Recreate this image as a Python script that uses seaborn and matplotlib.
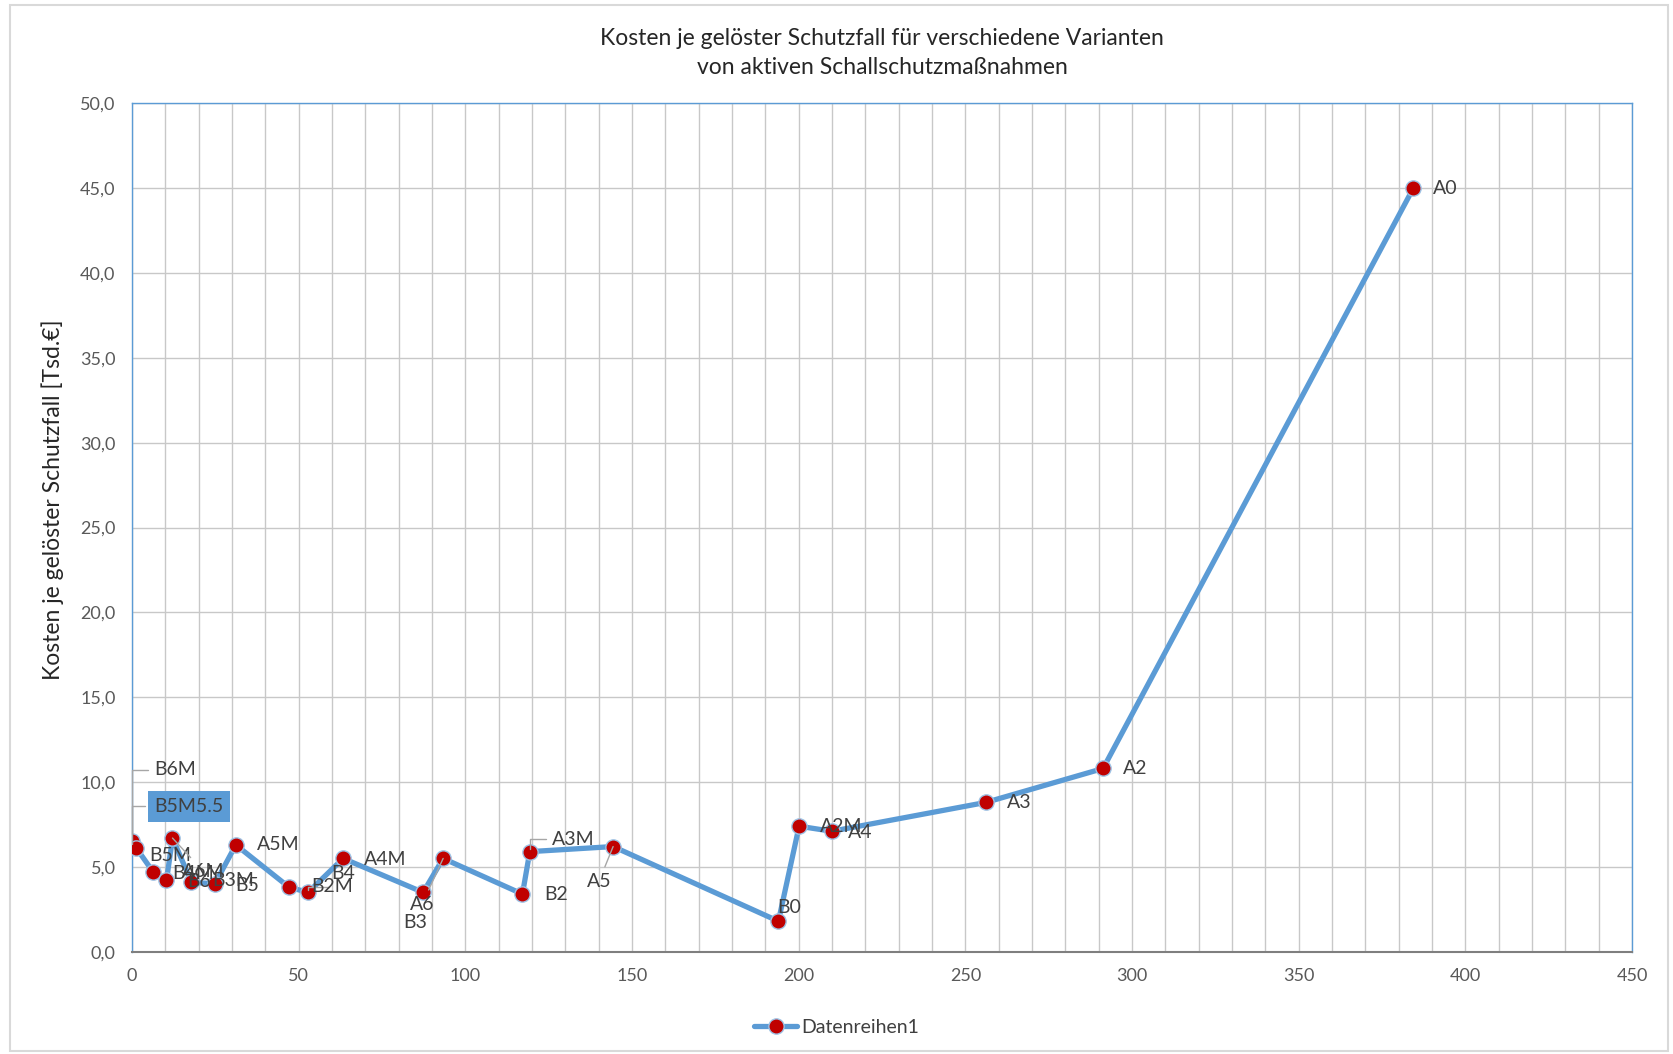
import matplotlib
matplotlib.use("Agg")
import matplotlib.pyplot as plt
from matplotlib.patches import Rectangle
from matplotlib.ticker import FuncFormatter, MultipleLocator
import seaborn as sns
import pandas as pd

# Variants in the order the line connects them
variants = ["B6M", "B5M5.5", "B5M", "B4M", "B6", "A6M", "B3M", "B5", "A5M", "B4",
            "B2M", "A4M", "B3", "A6", "B2", "A3M", "A5", "B0", "A2M", "A4",
            "A3", "A2", "A0"]
# resolved protection cases (x) and cost per resolved case in Tsd. EUR (y)
schutzfaelle = [0.0, 0.0, 1.3, 6.3, 10.3, 12.1, 17.8, 24.8, 31.1, 47.1,
                52.8, 63.3, 87.3, 93.3, 117.1, 119.3, 144.3, 193.9, 200.1, 209.9,
                256.1, 291.3, 384.4]
kosten = [6.8, 6.2, 6.1, 4.7, 4.2, 6.7, 4.1, 4.0, 6.3, 3.8,
          3.5, 5.5, 3.5, 5.5, 3.4, 5.9, 6.2, 1.8, 7.4, 7.1,
          8.8, 10.8, 45.0]

# label offsets in points (dx, dy) and leader line kind (None, "angle", "straight")
label_style = {
    "B6M": ((16, 48), "angle"), "B5M5.5": ((16, 29), "angle"), "B5M": ((9, -5), None),
    "B4M": ((14, -1), None), "B6": ((15, -1), None), "A6M": ((7, -24), "straight"),
    "B3M": ((15, 1), None), "B5": ((15, -1), None), "A5M": ((15, 0), None),
    "B4": ((30, 10), None), "B2M": ((2, 4), "angle"), "A4M": ((15, -1), None),
    "B3": ((-14, -22), None), "A6": ((-24, -33), "straight"), "B2": ((16, 0), None),
    "A3M": ((16, 9), "angle"), "A5": ((-19, -25), "straight"), "B0": ((-1, 10), None),
    "A2M": ((15, 0), None), "A4": ((12, -1), None), "A3": ((15, 0), None),
    "A2": ((14, 0), None), "A0": ((14, 0), None),
}

df = pd.DataFrame({"x": schutzfaelle, "y": kosten, "label": variants})

sns.set_theme(style="white")
plt.rcParams["font.family"] = ["Lato", "DejaVu Sans"]

fig = plt.figure(figsize=(16.73, 10.54), dpi=100)
ax = fig.add_axes([0.079, 0.097, 0.8965, 0.805])

line_blue = "#5B9BD5"
sns.lineplot(data=df, x="x", y="y", sort=False, ax=ax, color=line_blue,
             linewidth=3.8, marker="o", markersize=11,
             markerfacecolor="#C00000", markeredgecolor="#9DC3E6",
             markeredgewidth=1.0, label="Datenreihen1", zorder=3)

ax.set_xlim(0, 450)
ax.set_ylim(0, 50)
ax.xaxis.set_major_locator(MultipleLocator(50))
ax.xaxis.set_minor_locator(MultipleLocator(10))
ax.yaxis.set_major_locator(MultipleLocator(5))
ax.grid(which="both", axis="x", color="#C8C8C8", linewidth=1.0)
ax.grid(which="major", axis="y", color="#C8C8C8", linewidth=1.0)
ax.set_axisbelow(True)
ax.tick_params(which="both", length=0, labelsize=13, labelcolor="#595959")
ax.tick_params(axis="y", pad=12)
ax.tick_params(axis="x", pad=12)
ax.yaxis.set_major_formatter(FuncFormatter(lambda v, p: f"{v:.1f}".replace(".", ",")))

for side in ("left", "top", "right"):
    ax.spines[side].set_color(line_blue)
    ax.spines[side].set_linewidth(1.0)
ax.spines["bottom"].set_color("#7F7F7F")
ax.spines["bottom"].set_linewidth(1.5)

ax.set_xlabel("")
ax.set_ylabel("Kosten je gelöster Schutzfall [Tsd.€]", fontsize=16.5, color="#262626")
ax.yaxis.set_label_coords(-0.0455, 0.533)
ax.set_title("Kosten je gelöster Schutzfall für verschiedene Varianten\nvon aktiven Schallschutzmaßnahmen",
             fontsize=16.5, color="#262626", pad=21, linespacing=1.45)

for xv, yv, lab in zip(schutzfaelle, kosten, variants):
    (dx, dy), leader = label_style[lab]
    kw = dict(xy=(xv, yv), xytext=(dx, dy), textcoords="offset points",
              ha="left", va="center", fontsize=14, color="#404040", zorder=4)
    if leader == "angle":
        kw["arrowprops"] = dict(arrowstyle="-", color="#A6A6A6", lw=1.0,
                                shrinkA=2, shrinkB=2,
                                connectionstyle="angle,angleA=0,angleB=90,rad=0")
    elif leader == "straight":
        kw["arrowprops"] = dict(arrowstyle="-", color="#A6A6A6", lw=1.0,
                                shrinkA=2, shrinkB=0)
    if lab == "B5M5.5":
        kw["bbox"] = dict(boxstyle="square,pad=0.35", fc=line_blue, ec="none")
    ax.annotate(lab, **kw)

handles, labels = ax.get_legend_handles_labels()
ax.get_legend().remove()
fig.legend(handles, labels, loc="center", bbox_to_anchor=(0.5, 0.025), frameon=False,
           fontsize=14, handlelength=2.2, handletextpad=0.2, labelcolor="#404040")

fig.patches.append(Rectangle((0.006, 0.003), 0.991, 0.992, transform=fig.transFigure,
                             fill=False, ec="#D9D9D9", lw=1.5))

fig.savefig("out.png", dpi=100)
